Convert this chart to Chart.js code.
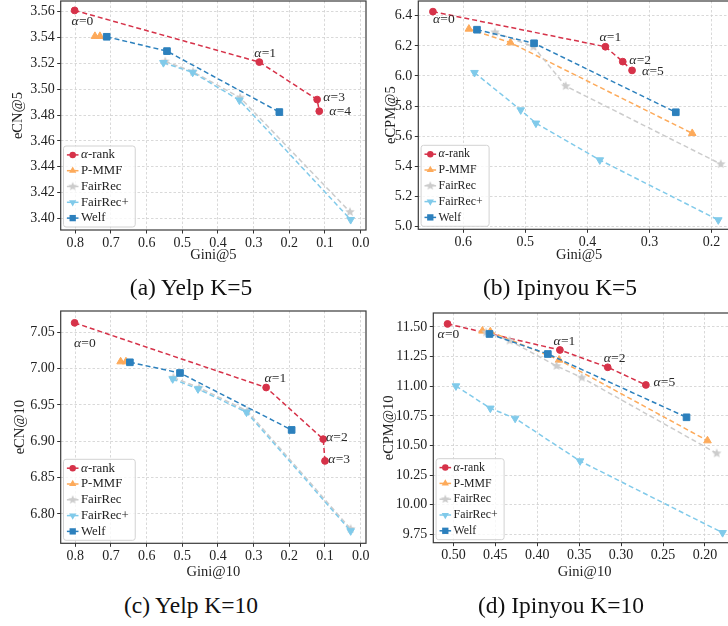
<!DOCTYPE html>
<html><head><meta charset="utf-8">
<script src="https://cdn.jsdelivr.net/npm/chart.js@4"></script>
<style>
html,body{margin:0;padding:0;background:#fff;width:728px;height:626px;overflow:hidden;}
body{position:relative;}
canvas{position:absolute;}
.cap{position:absolute;font-family:"Liberation Serif","Times New Roman",serif;font-size:23.5px;color:#111;white-space:nowrap;transform:translate(-50%,-50%);line-height:1;}
</style></head><body>
<canvas id="ca"></canvas><canvas id="cb"></canvas><canvas id="cc"></canvas><canvas id="cd"></canvas>
<div class="cap" style="left:191px;top:288px">(a) Yelp K=5</div>
<div class="cap" style="left:560px;top:288px">(b) Ipinyou K=5</div>
<div class="cap" style="left:191px;top:606px">(c) Yelp K=10</div>
<div class="cap" style="left:561px;top:606px">(d) Ipinyou K=10</div>
<script>
// ---------- DATA ----------
const seriesNames = ['α-rank', 'P-MMF', 'FairRec', 'FairRec+', 'Welf'];

// (a) Yelp K=5 : Gini@5 vs eCN@5
const yelp5_alphaRank_gini = [0.802, 0.284, 0.122, 0.116];
const yelp5_alphaRank_ecn  = [3.561, 3.521, 3.492, 3.483];
const yelp5_alphaRank_alpha = [0, 1, 3, 4];
const yelp5_pmmf_gini = [0.745, 0.731];
const yelp5_pmmf_ecn  = [3.541, 3.541];
const yelp5_fairrec_gini = [0.548, 0.470, 0.338, 0.030];
const yelp5_fairrec_ecn  = [3.5215, 3.5135, 3.4935, 3.405];
const yelp5_fairrecPlus_gini = [0.553, 0.471, 0.340, 0.028];
const yelp5_fairrecPlus_ecn  = [3.5205, 3.513, 3.4915, 3.399];
const yelp5_welf_gini = [0.712, 0.543, 0.228];
const yelp5_welf_ecn  = [3.5406, 3.5295, 3.4823];
const yelp5_xTicks = [0.0, 0.1, 0.2, 0.3, 0.4, 0.5, 0.6, 0.7, 0.8];
const yelp5_yTicks = [3.40, 3.42, 3.44, 3.46, 3.48, 3.50, 3.52, 3.54, 3.56];

// (b) Ipinyou K=5 : Gini@5 vs eCPM@5
const ipin5_alphaRank_gini = [0.649, 0.371, 0.343, 0.328];
const ipin5_alphaRank_ecpm = [6.427, 6.194, 6.095, 6.037];
const ipin5_alphaRank_alpha = [0, 1, 2, 5];
const ipin5_pmmf_gini = [0.591, 0.524, 0.231];
const ipin5_pmmf_ecpm = [6.312, 6.221, 5.619];
const ipin5_fairrec_gini = [0.549, 0.487, 0.435, 0.185];
const ipin5_fairrec_ecpm = [6.290, 6.194, 5.933, 5.415];
const ipin5_fairrecPlus_gini = [0.582, 0.5075, 0.483, 0.380, 0.189];
const ipin5_fairrecPlus_ecpm = [6.022, 5.774, 5.686, 5.442, 5.044];
const ipin5_welf_gini = [0.578, 0.486, 0.2575];
const ipin5_welf_ecpm = [6.307, 6.217, 5.759];
const ipin5_xTicks = [0.2, 0.3, 0.4, 0.5, 0.6];
const ipin5_yTicks = [5.0, 5.2, 5.4, 5.6, 5.8, 6.0, 6.2, 6.4];

// (c) Yelp K=10 : Gini@10 vs eCN@10
const yelp10_alphaRank_gini = [0.802, 0.265, 0.105, 0.100];
const yelp10_alphaRank_ecn  = [7.063, 6.974, 6.903, 6.873];
const yelp10_alphaRank_alpha = [0, 1, 2, 3];
const yelp10_pmmf_gini = [0.673, 0.658];
const yelp10_pmmf_ecn  = [7.0096, 7.0096];
const yelp10_fairrec_gini = [0.525, 0.453, 0.318, 0.028];
const yelp10_fairrec_ecn  = [6.9876, 6.9738, 6.9417, 6.7794];
const yelp10_fairrecPlus_gini = [0.527, 0.456, 0.320, 0.028];
const yelp10_fairrecPlus_ecn  = [6.9858, 6.972, 6.940, 6.7766];
const yelp10_welf_gini = [0.647, 0.5065, 0.1935];
const yelp10_welf_ecn  = [7.0087, 6.994, 6.9156];
const yelp10_xTicks = [0.0, 0.1, 0.2, 0.3, 0.4, 0.5, 0.6, 0.7, 0.8];
const yelp10_yTicks = [6.80, 6.85, 6.90, 6.95, 7.00, 7.05];

// (d) Ipinyou K=10 : Gini@10 vs eCPM@10
const ipin10_alphaRank_gini = [0.507, 0.373, 0.316, 0.2705];
const ipin10_alphaRank_ecpm = [11.526, 11.306, 11.160, 11.011];
const ipin10_alphaRank_alpha = [0, 1, 2, 5];
const ipin10_pmmf_gini = [0.4654, 0.456, 0.374, 0.197];
const ipin10_pmmf_ecpm = [11.467, 11.461, 11.222, 10.541];
const ipin10_fairrec_gini = [0.461, 0.433, 0.377, 0.347, 0.186];
const ipin10_fairrec_ecpm = [11.455, 11.385, 11.171, 11.073, 10.434];
const ipin10_fairrecPlus_gini = [0.497, 0.456, 0.4264, 0.349, 0.179];
const ipin10_fairrecPlus_ecpm = [11.002, 10.814, 10.729, 10.369, 9.764];
const ipin10_welf_gini = [0.457, 0.3874, 0.222];
const ipin10_welf_ecpm = [11.441, 11.272, 10.738];
const ipin10_xTicks = [0.20, 0.25, 0.30, 0.35, 0.40, 0.45, 0.50];
const ipin10_yTicks = [9.75, 10.00, 10.25, 10.50, 10.75, 11.00, 11.25, 11.50];

// ---------- STYLE ----------
const FONT = '"Liberation Serif","Times New Roman",serif';
const TICK_SIZE = 14;
const TITLE_SIZE = 14.5;
const COLORS = ['#d63249', '#fdaa5a', '#cccccc', '#80caea', '#2c80bd'];
const GRID = '#cfcfcf';

function starImg(color, r) {
  const c = document.createElement('canvas');
  const s = Math.ceil(r * 2 + 2);
  c.width = s; c.height = s;
  const g = c.getContext('2d');
  g.fillStyle = color; g.beginPath();
  for (let i = 0; i < 10; i++) {
    const ang = -Math.PI / 2 + i * Math.PI / 5;
    const rr = i % 2 ? r * 0.45 : r;
    g.lineTo(s / 2 + rr * Math.cos(ang), s / 2 + rr * Math.sin(ang));
  }
  g.closePath(); g.fill();
  return c;
}
const STAR = starImg(COLORS[2], 5);
const MARKERS = [
  {style: 'circle', r: 3.4, rot: 0},
  {style: 'triangle', r: 4.4, rot: 0},
  {style: STAR, r: 4.5, rot: 0},
  {style: 'triangle', r: 4.4, rot: 180},
  {style: 'rect', r: 4.7, rot: 0}
];

function drawMarker(ctx, i, x, y, scale) {
  const m = MARKERS[i];
  const r = m.r * scale;
  ctx.save();
  ctx.fillStyle = COLORS[i];
  ctx.beginPath();
  if (i === 0) { ctx.arc(x, y, r, 0, Math.PI * 2); ctx.fill(); }
  else if (i === 1 || i === 3) {
    const s = i === 3 ? -1 : 1;
    for (let k = 0; k < 3; k++) {
      const a = k * 2 * Math.PI / 3;
      ctx.lineTo(x + Math.sin(a) * r, y - s * Math.cos(a) * r);
    }
    ctx.closePath(); ctx.fill();
  } else if (i === 2) {
    const w = STAR.width * scale;
    ctx.drawImage(STAR, x - w / 2, y - w / 2, w, w);
  } else {
    const h = r * Math.SQRT1_2;
    ctx.fillRect(x - h, y - h, 2 * h, 2 * h);
  }
  ctx.restore();
}

function drawAlphaText(ctx, x, y, rest, size) {
  ctx.textBaseline = 'middle'; ctx.textAlign = 'left';
  ctx.font = 'italic ' + size + 'px ' + FONT;
  ctx.fillText('α', x, y);
  const w = ctx.measureText('α').width;
  ctx.font = size + 'px ' + FONT;
  ctx.fillText(rest, x + w + 0.3, y);
}

function buildPanel(id, P, series, alphaVals, xTicks, yTicks, xDec, yDec, xr, yr, xTitle, yTitle, lblOff) {
  const cv = document.getElementById(id);
  const canvasTop = Math.floor(P.T) - 16;
  const padTop = P.T - canvasTop;
  const yW = P.L - P.canvasLeft;
  const W = Math.ceil(P.R - P.canvasLeft + 18);
  const padRight = W - (P.R - P.canvasLeft);
  const H = Math.ceil(P.B - canvasTop + 44);
  const xH = H - (P.B - canvasTop);
  cv.width = W; cv.height = H;
  cv.style.left = P.canvasLeft + 'px'; cv.style.top = canvasTop + 'px';
  cv.style.width = W + 'px'; cv.style.height = H + 'px';
  const lh = TITLE_SIZE * 1.2;
  const yTitlePad = P.yTitleX - P.canvasLeft - lh / 2;
  const xTitlePad = (canvasTop + H) - P.xTitleY - lh / 2;

  const overlay = {
    id: 'overlay' + id,
    afterDatasetsDraw(chart) {
      const ctx = chart.ctx;
      const ca = chart.chartArea;
      // alpha annotations
      const meta = chart.getDatasetMeta(0);
      ctx.save();
      ctx.fillStyle = '#2a2a2a';
      meta.data.forEach((pt, j) => {
        drawAlphaText(ctx, pt.x + lblOff[j][0], pt.y + lblOff[j][1], '=' + alphaVals[j], 13.5);
      });
      ctx.restore();
      // legend
      ctx.save();
      const fs = P.legendFont;
      ctx.font = fs + 'px ' + FONT;
      let tw = 0;
      seriesNames.forEach(n => { tw = Math.max(tw, ctx.measureText(n).width); });
      const rowH = 15.8;
      const bw = 17.5 + tw + 6.5;
      const bh = rowH * 5 + 2;
      const bx = ca.left + 2.8, by = ca.bottom - 3 - bh;
      ctx.beginPath();
      if (ctx.roundRect) ctx.roundRect(bx, by, bw, bh, 2.5); else ctx.rect(bx, by, bw, bh);
      ctx.fillStyle = 'rgba(255,255,255,0.8)';
      ctx.fill();
      ctx.strokeStyle = '#d2d2d2'; ctx.lineWidth = 1; ctx.stroke();
      seriesNames.forEach((n, i) => {
        const cy = by + 1 + rowH * (i + 0.5);
        ctx.strokeStyle = COLORS[i]; ctx.lineWidth = 1.5; ctx.setLineDash([]);
        ctx.beginPath(); ctx.moveTo(bx + 3.4, cy); ctx.lineTo(bx + 15, cy); ctx.stroke();
        drawMarker(ctx, i, bx + 9.2, cy, 0.95);
        ctx.fillStyle = '#222';
        if (i === 0) drawAlphaText(ctx, bx + 17.5, cy, '-rank', fs);
        else { ctx.font = fs + 'px ' + FONT; ctx.textBaseline = 'middle'; ctx.textAlign = 'left'; ctx.fillText(n, bx + 17.5, cy); }
      });
      ctx.restore();
    },
    afterDraw(chart) {
      const ctx = chart.ctx, ca = chart.chartArea;
      ctx.save();
      ctx.strokeStyle = '#3a3a3a'; ctx.lineWidth = 1.2; ctx.setLineDash([]);
      ctx.strokeRect(ca.left, ca.top, ca.right - ca.left, ca.bottom - ca.top);
      ctx.restore();
    }
  };

  const tickFont = {family: FONT, size: TICK_SIZE};
  const titleFont = {family: FONT, size: TITLE_SIZE};
  return new Chart(cv, {
    type: 'scatter',
    data: {
      datasets: series.map((s, i) => ({
        label: seriesNames[i],
        data: s[0].map((x, j) => ({x: x, y: s[1][j]})),
        showLine: true,
        borderColor: COLORS[i], backgroundColor: COLORS[i],
        borderWidth: 1.5, borderDash: [5, 3],
        pointStyle: MARKERS[i].style, pointRadius: MARKERS[i].r, pointRotation: MARKERS[i].rot,
        pointBackgroundColor: COLORS[i], pointBorderColor: COLORS[i], pointBorderWidth: 1,
        order: 4 - i
      }))
    },
    options: {
      responsive: false, animation: false, devicePixelRatio: 1, events: [],
      layout: {padding: {top: padTop, right: padRight, bottom: 0, left: 0}},
      plugins: {legend: {display: false}, tooltip: {enabled: false}},
      scales: {
        x: {
          type: 'linear', reverse: true, min: xr[0], max: xr[1],
          afterBuildTicks: s => { s.ticks = xTicks.map(v => ({value: v})); },
          afterFit: s => { s.height = xH; },
          ticks: {callback: v => Number(v).toFixed(xDec), font: tickFont, color: '#222', padding: 1, autoSkip: false, maxRotation: 0, minRotation: 0},
          grid: {color: GRID, lineWidth: 0.8, tickLength: 3.5, tickColor: '#333', tickWidth: 1, tickBorderDash: []},
          border: {display: false, dash: [2.5, 2]},
          title: {display: true, text: xTitle, font: titleFont, color: '#222', padding: {top: 0, bottom: xTitlePad}}
        },
        y: {
          type: 'linear', min: yr[0], max: yr[1],
          afterBuildTicks: s => { s.ticks = yTicks.map(v => ({value: v})); },
          afterFit: s => { s.width = yW; },
          ticks: {callback: v => Number(v).toFixed(yDec), font: tickFont, color: '#222', padding: 2.5, autoSkip: false},
          grid: {color: GRID, lineWidth: 0.8, tickLength: 3.5, tickColor: '#333', tickWidth: 1, tickBorderDash: []},
          border: {display: false, dash: [2.5, 2]},
          title: {display: true, text: yTitle, font: titleFont, color: '#222', padding: {top: yTitlePad, bottom: 0}}
        }
      }
    },
    plugins: [overlay]
  });
}

buildPanel('ca',
  {canvasLeft: 0, L: 60.7, T: 1, R: 366, B: 230, yTitleX: 18.3, xTitleY: 255, legendFont: 12.8},
  [[yelp5_alphaRank_gini, yelp5_alphaRank_ecn], [yelp5_pmmf_gini, yelp5_pmmf_ecn],
   [yelp5_fairrec_gini, yelp5_fairrec_ecn], [yelp5_fairrecPlus_gini, yelp5_fairrecPlus_ecn],
   [yelp5_welf_gini, yelp5_welf_ecn]],
  yelp5_alphaRank_alpha, yelp5_xTicks, yelp5_yTicks, 1, 2, [-0.015, 0.841], [3.391, 3.5683],
  'Gini@5', 'eCN@5', [[-3, 11.4], [-5, -9], [6, -1.7], [10, 0]]);

buildPanel('cb',
  {canvasLeft: 370, L: 418.3, T: 1, R: 740, B: 229.3, yTitleX: 390.7, xTitleY: 255, legendFont: 11.8},
  [[ipin5_alphaRank_gini, ipin5_alphaRank_ecpm], [ipin5_pmmf_gini, ipin5_pmmf_ecpm],
   [ipin5_fairrec_gini, ipin5_fairrec_ecpm], [ipin5_fairrecPlus_gini, ipin5_fairrecPlus_ecpm],
   [ipin5_welf_gini, ipin5_welf_ecpm]],
  ipin5_alphaRank_alpha, ipin5_xTicks, ipin5_yTicks, 1, 1, [0.154, 0.6726], [4.982, 6.4976],
  'Gini@5', 'eCPM@5', [[0, 7.6], [-6, -9.4], [6.6, -1], [10, 1.4]]);

buildPanel('cc',
  {canvasLeft: 0, L: 60.7, T: 311, R: 366, B: 543.3, yTitleX: 20, xTitleY: 571.7, legendFont: 12.8},
  [[yelp10_alphaRank_gini, yelp10_alphaRank_ecn], [yelp10_pmmf_gini, yelp10_pmmf_ecn],
   [yelp10_fairrec_gini, yelp10_fairrec_ecn], [yelp10_fairrecPlus_gini, yelp10_fairrecPlus_ecn],
   [yelp10_welf_gini, yelp10_welf_ecn]],
  yelp10_alphaRank_alpha, yelp10_xTicks, yelp10_yTicks, 1, 2, [-0.015, 0.841], [6.7596, 7.0793],
  'Gini@10', 'eCN@10', [[-0.7, 20.3], [-1.7, -8.7], [2.7, -1.7], [3.3, -1.4]]);

buildPanel('cd',
  {canvasLeft: 370, L: 433.3, T: 313, R: 736, B: 542.7, yTitleX: 389, xTitleY: 571.7, legendFont: 11.8},
  [[ipin10_alphaRank_gini, ipin10_alphaRank_ecpm], [ipin10_pmmf_gini, ipin10_pmmf_ecpm],
   [ipin10_fairrec_gini, ipin10_fairrec_ecpm], [ipin10_fairrecPlus_gini, ipin10_fairrecPlus_ecpm],
   [ipin10_welf_gini, ipin10_welf_ecpm]],
  ipin10_alphaRank_alpha, ipin10_xTicks, ipin10_yTicks, 2, 2, [0.163, 0.524], [9.68, 11.618],
  'Gini@10', 'eCPM@10', [[-10, 10.3], [-6.4, -9], [-4, -9], [7.6, -2.7]]);
</script>
</body></html>
